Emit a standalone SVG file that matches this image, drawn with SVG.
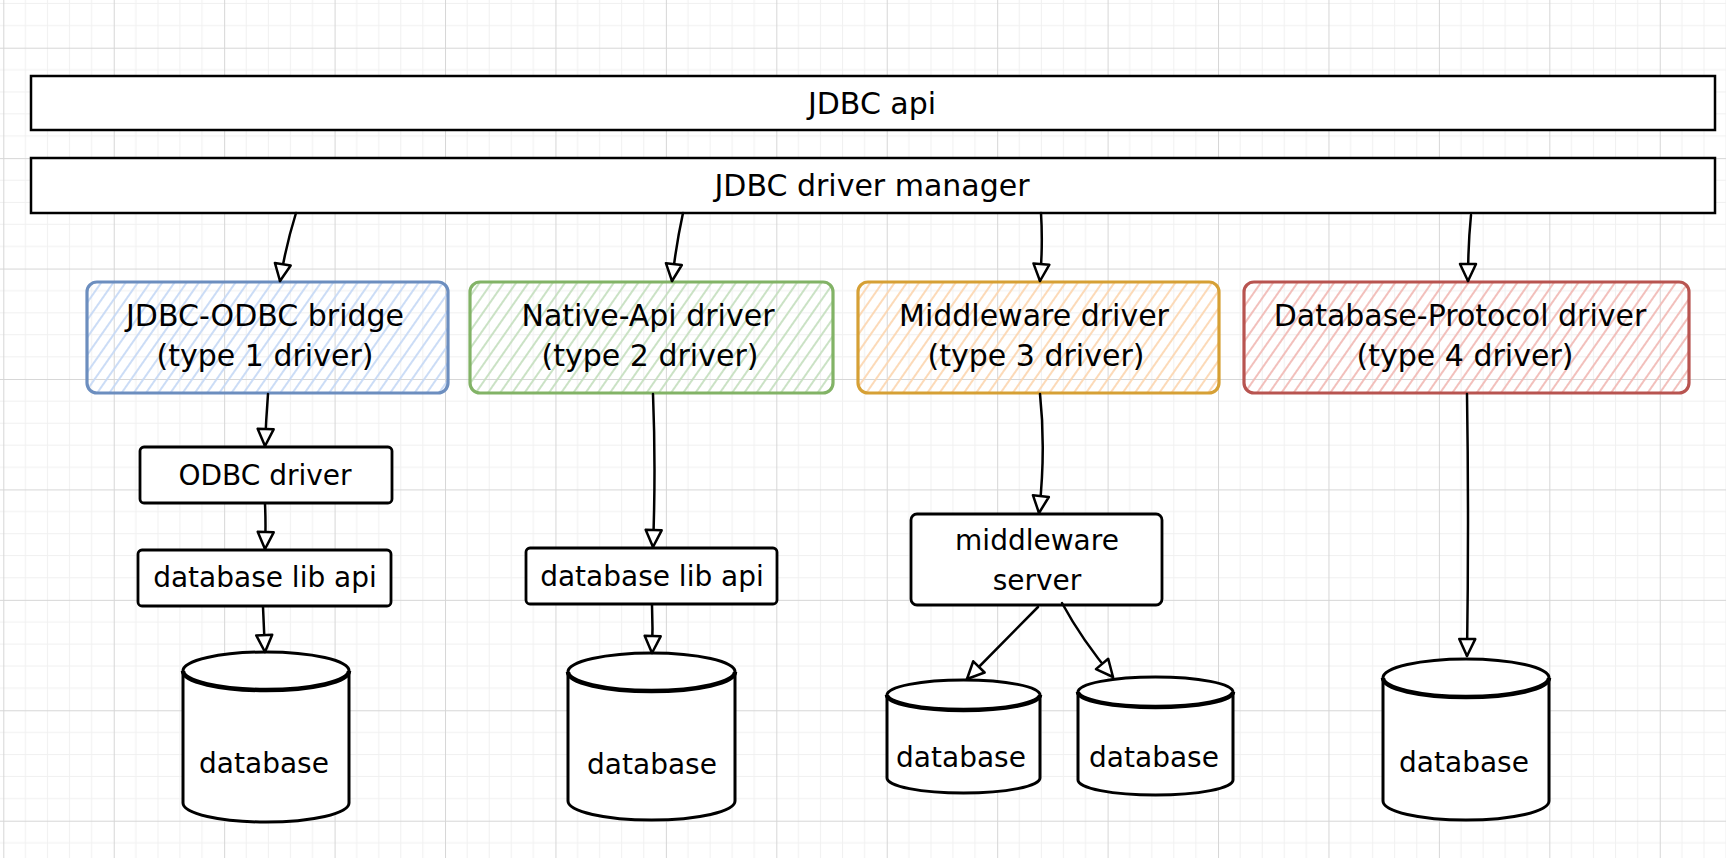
<svg xmlns="http://www.w3.org/2000/svg" width="1726" height="858" viewBox="0 0 1726 858">
<style>
  .t{font-family:"DejaVu Sans","Liberation Sans",sans-serif;fill:#000;text-anchor:middle}
  .big{font-size:30px}
  .sm{font-size:28px}
  .bar{fill:#fff;stroke:#000;stroke-width:2.5}
  .box{fill:#fff;stroke:#000;stroke-width:2.8}
  .cyl{fill:#fff;stroke:#000;stroke-width:3;stroke-linejoin:round}
  .rim{fill:none;stroke:#000;stroke-width:4.5}
  .conn{fill:none;stroke:#000;stroke-width:2.5;stroke-linecap:round}
</style>
<defs>
  <pattern id="grid" x="3.3" y="47.7" width="110.43" height="110.43" patternUnits="userSpaceOnUse">
    <g stroke="#f0f0f0" stroke-width="1">
      <line x1="22.09" y1="0" x2="22.09" y2="110.43"/>
      <line x1="44.17" y1="0" x2="44.17" y2="110.43"/>
      <line x1="66.26" y1="0" x2="66.26" y2="110.43"/>
      <line x1="88.34" y1="0" x2="88.34" y2="110.43"/>
      <line y1="22.09" x1="0" y2="22.09" x2="110.43"/>
      <line y1="44.17" x1="0" y2="44.17" x2="110.43"/>
      <line y1="66.26" x1="0" y2="66.26" x2="110.43"/>
      <line y1="88.34" x1="0" y2="88.34" x2="110.43"/>
    </g>
    <g stroke="#d6d6d6" stroke-width="1">
      <line x1="0.5" y1="0" x2="0.5" y2="110.43"/>
      <line y1="0.5" x1="0" y2="0.5" x2="110.43"/>
    </g>
  </pattern>
  <pattern id="hb" width="10" height="10" patternUnits="userSpaceOnUse" patternTransform="rotate(35)"><line x1="5" y1="0" x2="5" y2="10" stroke="#c6d9f5" stroke-width="1.8"/></pattern>
  <pattern id="hg" width="10" height="10" patternUnits="userSpaceOnUse" patternTransform="rotate(35)"><line x1="5" y1="0" x2="5" y2="10" stroke="#c5dfbf" stroke-width="1.8"/></pattern>
  <pattern id="ho" width="10" height="10" patternUnits="userSpaceOnUse" patternTransform="rotate(35)"><line x1="5" y1="0" x2="5" y2="10" stroke="#fcd6b0" stroke-width="1.8"/></pattern>
  <pattern id="hr" width="10" height="10" patternUnits="userSpaceOnUse" patternTransform="rotate(35)"><line x1="5" y1="0" x2="5" y2="10" stroke="#f1b9b5" stroke-width="1.8"/></pattern>
  <marker id="arr" markerUnits="userSpaceOnUse" markerWidth="22" markerHeight="22" viewBox="0 0 22 22" refX="19" refY="11" orient="auto">
    <path d="M2,3 L19,11 L2,19 Z" fill="#fff" stroke="#000" stroke-width="2.5" stroke-linejoin="round"/>
  </marker>
</defs>

<rect width="1726" height="858" fill="#fff"/>
<rect width="1726" height="858" fill="url(#grid)"/>

<g id="jdbc-api">
  <rect class="bar" x="31" y="76" width="1684" height="54"/>
  <text class="t big" x="872" y="114">JDBC api</text>
</g>
<g id="driver-manager">
  <rect class="bar" x="31" y="158" width="1684" height="55"/>
  <text class="t big" x="872" y="196">JDBC driver manager</text>
</g>

<g id="type1">
  <rect x="87" y="282" width="361" height="111" rx="10" fill="url(#hb)" stroke="#6c8ebf" stroke-width="3.2"/>
  <text class="t big" x="265" y="326">JDBC-ODBC bridge</text>
  <text class="t big" x="265" y="366">(type 1 driver)</text>
</g>
<g id="type2">
  <rect x="470" y="282" width="363" height="111" rx="10" fill="url(#hg)" stroke="#82b366" stroke-width="3.2"/>
  <text class="t big" x="648" y="326">Native-Api driver</text>
  <text class="t big" x="650" y="366">(type 2 driver)</text>
</g>
<g id="type3">
  <rect x="858" y="282" width="361" height="111" rx="10" fill="url(#ho)" stroke="#d6a035" stroke-width="3.2"/>
  <text class="t big" x="1034" y="326">Middleware driver</text>
  <text class="t big" x="1036" y="366">(type 3 driver)</text>
</g>
<g id="type4">
  <rect x="1244" y="282" width="445" height="111" rx="10" fill="url(#hr)" stroke="#b85450" stroke-width="3.2"/>
  <text class="t big" x="1460" y="326">Database-Protocol driver</text>
  <text class="t big" x="1465" y="366">(type 4 driver)</text>
</g>

<g id="odbc-driver">
  <rect class="box" x="140" y="447" width="252" height="56" rx="4"/>
  <text class="t sm" x="265" y="485">ODBC driver</text>
</g>
<g id="dblib-1">
  <rect class="box" x="138" y="550" width="253" height="56" rx="4"/>
  <text class="t sm" x="265" y="587">database lib api</text>
</g>
<g id="dblib-2">
  <rect class="box" x="526" y="548" width="251" height="56" rx="4"/>
  <text class="t sm" x="652" y="586">database lib api</text>
</g>
<g id="middleware-server">
  <rect class="box" x="911" y="514" width="251" height="91" rx="6"/>
  <text class="t sm" x="1037" y="550">middleware</text>
  <text class="t sm" x="1037" y="590">server</text>
</g>

<g id="db-1">
  <path class="cyl" d="M183,671 A83,19 0 0 1 349,671 L349,803 A83,19 0 0 1 183,803 Z"/>
  <path class="rim" d="M183,671 A83,19 0 0 0 349,671"/>
  <text class="t sm" x="264" y="773">database</text>
</g>
<g id="db-2">
  <path class="cyl" d="M568,672 A83.5,19 0 0 1 735,672 L735,801 A83.5,19 0 0 1 568,801 Z"/>
  <path class="rim" d="M568,672 A83.5,19 0 0 0 735,672"/>
  <text class="t sm" x="652" y="774">database</text>
</g>
<g id="db-3a">
  <path class="cyl" d="M887,695 A76.5,15 0 0 1 1040,695 L1040,778 A76.5,15 0 0 1 887,778 Z"/>
  <path class="rim" d="M887,695 A76.5,15 0 0 0 1040,695"/>
  <text class="t sm" x="961" y="767">database</text>
</g>
<g id="db-3b">
  <path class="cyl" d="M1078,692 A77.5,15 0 0 1 1233,692 L1233,780 A77.5,15 0 0 1 1078,780 Z"/>
  <path class="rim" d="M1078,692 A77.5,15 0 0 0 1233,692"/>
  <text class="t sm" x="1154" y="767">database</text>
</g>
<g id="db-4">
  <path class="cyl" d="M1383,678 A83,19 0 0 1 1549,678 L1549,801 A83,19 0 0 1 1383,801 Z"/>
  <path class="rim" d="M1383,678 A83,19 0 0 0 1549,678"/>
  <text class="t sm" x="1464" y="772">database</text>
</g>

<g id="connectors">
  <path class="conn" marker-end="url(#arr)" d="M296,213 Q286,245 280,281"/>
  <path class="conn" marker-end="url(#arr)" d="M683,213 Q676,245 672,281"/>
  <path class="conn" marker-end="url(#arr)" d="M1041,213 Q1043,245 1040,281"/>
  <path class="conn" marker-end="url(#arr)" d="M1471,215 Q1468,245 1468,281"/>
  <path class="conn" marker-end="url(#arr)" d="M268,394 Q266,420 265,446"/>
  <path class="conn" marker-end="url(#arr)" d="M265,504 Q266,525 265,549"/>
  <path class="conn" marker-end="url(#arr)" d="M263,607 Q264,630 265,652"/>
  <path class="conn" marker-end="url(#arr)" d="M653,394 Q656,470 653,547"/>
  <path class="conn" marker-end="url(#arr)" d="M652,605 Q653,628 652,653"/>
  <path class="conn" marker-end="url(#arr)" d="M1040,394 Q1046,450 1039,513"/>
  <path class="conn" marker-end="url(#arr)" d="M1038,607 L967,679"/>
  <path class="conn" marker-end="url(#arr)" d="M1062,603 Q1082,640 1113,677"/>
  <path class="conn" marker-end="url(#arr)" d="M1467,394 Q1469,520 1467,656"/>
</g>
</svg>
